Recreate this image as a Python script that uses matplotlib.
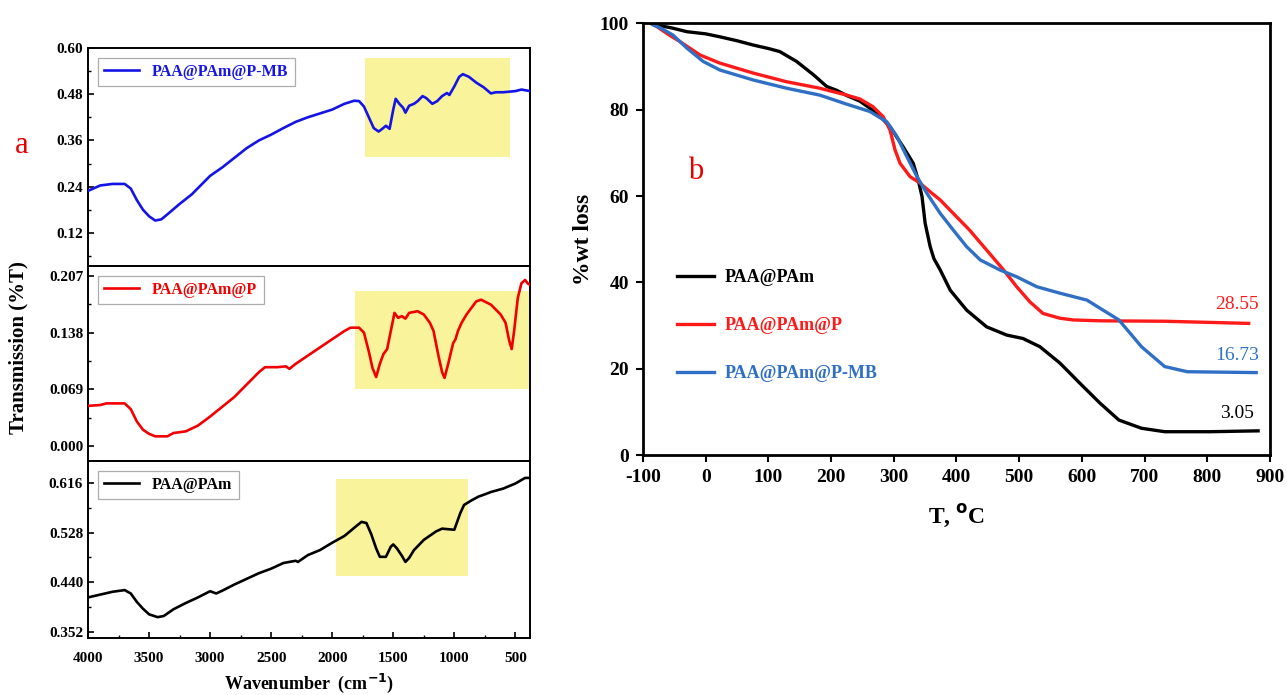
import matplotlib
matplotlib.use("Agg")
import matplotlib.pyplot as plt
from matplotlib.patches import Rectangle
from matplotlib.ticker import MultipleLocator, FixedLocator, FormatStrFormatter

plt.rcParams['font.family'] = ['Liberation Serif', 'DejaVu Serif']
plt.rcParams['font.weight'] = 'bold'
plt.rcParams['axes.unicode_minus'] = False

# ---- FTIR spectra (wavenumber cm-1, transmission) ----
wn_mb = [4000, 3900, 3800, 3700, 3650, 3600, 3550, 3500, 3450, 3400, 3350, 3250, 3150, 3000,
         2900, 2800, 2700, 2600, 2500, 2400, 2300, 2200, 2100, 2000, 1900, 1820, 1780, 1740,
         1700, 1660, 1620, 1590, 1560, 1530, 1500, 1480, 1450, 1420, 1400, 1370, 1330, 1300,
         1260, 1230, 1180, 1140, 1100, 1060, 1040, 1000, 960, 930, 880, 820, 760, 700, 660,
         600, 500, 450, 380]
tr_mb = [0.229, 0.243, 0.247, 0.247, 0.235, 0.205, 0.180, 0.163, 0.152, 0.155, 0.168, 0.195,
         0.220, 0.268, 0.290, 0.315, 0.340, 0.360, 0.375, 0.392, 0.408, 0.420, 0.430, 0.440,
         0.455, 0.463, 0.462, 0.448, 0.420, 0.392, 0.383, 0.390, 0.398, 0.390, 0.440, 0.468,
         0.455, 0.445, 0.432, 0.450, 0.455, 0.462, 0.475, 0.470, 0.455, 0.462, 0.475, 0.483,
         0.478, 0.500, 0.525, 0.532, 0.525, 0.510, 0.498, 0.482, 0.485, 0.485, 0.488, 0.492,
         0.488]

wn_p = [4000, 3900, 3850, 3700, 3650, 3600, 3550, 3500, 3450, 3350, 3300, 3200, 3100, 3000,
        2900, 2800, 2700, 2600, 2550, 2450, 2380, 2350, 2300, 2200, 2100, 2000, 1900, 1850,
        1780, 1740, 1700, 1670, 1640, 1610, 1580, 1550, 1520, 1490, 1460, 1430, 1400, 1370,
        1300, 1250, 1200, 1170, 1130, 1100, 1080, 1050, 1010, 990, 970, 940, 900, 860, 820,
        780, 700, 620, 580, 550, 530, 510, 480, 450, 420, 400, 380]
tr_p = [0.049, 0.050, 0.052, 0.052, 0.045, 0.030, 0.020, 0.015, 0.012, 0.012, 0.016, 0.018,
        0.025, 0.036, 0.048, 0.060, 0.075, 0.090, 0.096, 0.096, 0.097, 0.094, 0.100, 0.110,
        0.120, 0.130, 0.140, 0.144, 0.144, 0.138, 0.115, 0.095, 0.084, 0.100, 0.112, 0.118,
        0.140, 0.162, 0.156, 0.158, 0.155, 0.162, 0.164, 0.160, 0.150, 0.140, 0.110, 0.090,
        0.083, 0.100, 0.125, 0.130, 0.140, 0.150, 0.160, 0.168, 0.176, 0.178, 0.172, 0.160,
        0.150, 0.128, 0.118, 0.140, 0.180, 0.198, 0.202, 0.198, 0.196]

wn_pam = [4000, 3900, 3800, 3700, 3650, 3600, 3550, 3500, 3430, 3380, 3300, 3200, 3100, 3000,
          2950, 2900, 2800, 2700, 2600, 2500, 2400, 2300, 2280, 2200, 2100, 2000, 1900, 1800,
          1760, 1720, 1680, 1640, 1610, 1560, 1520, 1500, 1470, 1430, 1400, 1370, 1330, 1250,
          1150, 1100, 1050, 1000, 980, 950, 920, 860, 800, 760, 700, 600, 500, 420, 380]
tr_pam = [0.413, 0.418, 0.423, 0.426, 0.420, 0.405, 0.393, 0.383, 0.378, 0.380, 0.392, 0.403,
          0.413, 0.424, 0.420, 0.425, 0.436, 0.446, 0.456, 0.464, 0.474, 0.478, 0.476, 0.488,
          0.497, 0.510, 0.522, 0.540, 0.547, 0.545, 0.525, 0.500, 0.485, 0.485, 0.503, 0.507,
          0.500, 0.487, 0.476, 0.483, 0.497, 0.515, 0.530, 0.535, 0.534, 0.533, 0.545, 0.563,
          0.577, 0.585, 0.592, 0.595, 0.600, 0.606, 0.615, 0.625, 0.625]

# highlighted fingerprint regions (x_from, x_to, y_low, y_high)
band_mb = (1735, 545, 0.317, 0.574)
band_p = (1815, 390, 0.070, 0.188)
band_pam = (1965, 890, 0.451, 0.623)

# ---- TGA curves (T in C, weight %) ----
t_pam = [-87, -84, -55, -30, 0, 23, 50, 76, 100, 118, 145, 172, 193, 209, 225, 246, 273, 294,
         315, 331, 339, 345, 350, 358, 364, 374, 390, 416, 448, 480, 506, 533, 565, 597, 629,
         659, 695, 732, 804, 881]
w_pam = [100.0, 99.8, 99.0, 98.1, 97.6, 96.9, 96.0, 95.0, 94.2, 93.5, 91.2, 88.1, 85.4, 84.5,
         83.3, 82.0, 79.2, 76.1, 71.4, 67.6, 63.7, 59.9, 53.7, 48.3, 45.5, 42.9, 38.2, 33.6,
         29.7, 27.8, 27.0, 25.1, 21.3, 16.6, 12.0, 8.1, 6.2, 5.4, 5.4, 5.6]

t_p = [-87, -78, -60, -41, -9, 23, 76, 129, 182, 225, 246, 267, 283, 294, 302, 310, 326, 342,
       358, 374, 421, 448, 475, 496, 517, 538, 565, 586, 629, 732, 866]
w_p = [100.0, 99.3, 97.5, 95.8, 92.7, 90.8, 88.5, 86.5, 85.0, 83.4, 82.5, 80.7, 78.4, 75.3,
       70.7, 67.6, 64.5, 63.0, 61.0, 59.1, 52.1, 47.5, 42.9, 39.0, 35.5, 32.8, 31.7, 31.3, 31.1,
       31.0, 30.5]

t_mb = [-87, -84, -70, -52, -30, -4, 23, 76, 129, 182, 225, 262, 289, 305, 321, 337, 353, 374,
        395, 416, 438, 469, 496, 528, 565, 608, 629, 659, 695, 732, 768, 878]
w_mb = [100.0, 99.7, 98.8, 97.3, 94.3, 91.2, 89.2, 86.9, 85.0, 83.4, 81.3, 79.6, 77.2, 73.8,
        69.1, 64.5, 60.6, 56.0, 52.1, 48.3, 45.2, 42.9, 41.3, 39.0, 37.5, 35.9, 34.0, 31.3,
        25.1, 20.5, 19.3, 19.1]

residue = ['3.05', '28.55', '16.73']
residue_y = [9.7, 34.8, 23.0]

names = ['PAA@PAm', 'PAA@PAm@P', 'PAA@PAm@P-MB']
ftir_colors = ['black', '#f20000', '#1414e6']
tga_colors = ['black', '#ff1a1a', '#2f6fc6']

fig = plt.figure(figsize=(12.87, 6.95), dpi=100)

ax_top = fig.add_axes([0.0684, 0.6173, 0.3434, 0.3137])
ax_mid = fig.add_axes([0.0684, 0.3367, 0.3434, 0.2806], sharex=ax_top)
ax_bot = fig.add_axes([0.0684, 0.0820, 0.3434, 0.2547], sharex=ax_top)

panels = [
    (ax_top, wn_mb, tr_mb, names[2], ftir_colors[2], band_mb,
     (0.034, 0.60), [0.12, 0.24, 0.36, 0.48, 0.60], '%.2f'),
    (ax_mid, wn_p, tr_p, names[1], ftir_colors[1], band_p,
     (-0.018, 0.219), [0.0, 0.069, 0.138, 0.207], '%.3f'),
    (ax_bot, wn_pam, tr_pam, names[0], ftir_colors[0], band_pam,
     (0.341, 0.655), [0.352, 0.440, 0.528, 0.616], '%.3f'),
]

for ax, x, y, name, col, band, ylim, yt, fmt in panels:
    x0, x1, y0, y1 = band
    ax.add_patch(Rectangle((x1, y0), x0 - x1, y1 - y0, facecolor='#f9f39c',
                           edgecolor='none', zorder=1))
    ax.plot(x, y, color=col, lw=1.9, label=name, zorder=3)
    ax.set_ylim(*ylim)
    ax.yaxis.set_major_locator(FixedLocator(yt))
    step = yt[1] - yt[0]
    ax.yaxis.set_minor_locator(FixedLocator([v + step / 2 for v in [yt[0] - step] + yt]))
    ax.yaxis.set_major_formatter(FormatStrFormatter(fmt))
    ax.tick_params(axis='both', which='both', direction='in', labelsize=11)
    ax.tick_params(which='major', length=4, width=1.2)
    ax.tick_params(which='minor', length=2.5, width=1)
    for s in ax.spines.values():
        s.set_linewidth(1.4)
    leg = ax.legend(loc='upper left', frameon=True, fancybox=False,
                    edgecolor='#999999', handlelength=2.2, borderaxespad=0.6,
                    labelcolor='linecolor', prop={'weight': 'bold', 'size': 11.5})
    leg.get_frame().set_linewidth(0.9)

ax_top.set_xlim(4000, 380)
ax_top.xaxis.set_major_locator(MultipleLocator(500))
ax_top.xaxis.set_minor_locator(MultipleLocator(250))
for ax in (ax_top, ax_mid):
    ax.tick_params(axis='x', which='both', bottom=False, labelbottom=False)
ax_bot.tick_params(axis='x', which='major', pad=10)
ax_bot.set_xlabel('Wavenumber  (cm$^{\\mathbf{-1}}$)', fontsize=13, fontweight='bold', labelpad=5)

fig.text(0.014, 0.50, 'Transmission (%T)', rotation=90, ha='center', va='center',
         fontsize=15, fontweight='bold')
fig.text(0.017, 0.79, 'a', color='#e60000', fontsize=22, fontweight='normal',
         ha='center', va='center')

# ---- TGA panel ----
ax_t = fig.add_axes([0.4996, 0.3453, 0.4872, 0.6209])
tga = [(t_pam, w_pam), (t_p, w_p), (t_mb, w_mb)]
for (t, w), name, col in zip(tga, names, tga_colors):
    ax_t.plot(t, w, color=col, lw=2.4, label=name, solid_joinstyle='round')

for txt, yv, col in zip(residue, residue_y, tga_colors):
    ax_t.text(848, yv, txt, color=col, fontsize=14, fontweight='normal',
              ha='center', va='center')

ax_t.text(-16, 65.7, 'b', color='#e60000', fontsize=22, fontweight='normal',
          ha='center', va='center')

ax_t.set_xlim(-100, 900)
ax_t.set_ylim(0, 100)
ax_t.xaxis.set_major_locator(MultipleLocator(100))
ax_t.yaxis.set_major_locator(MultipleLocator(20))
ax_t.tick_params(direction='out', length=5, width=1.5, labelsize=14, pad=5)
for s in ax_t.spines.values():
    s.set_linewidth(2)
ax_t.set_xlabel('T, $^{\\mathbf{o}}$C', fontsize=17, fontweight='bold', labelpad=12)
ax_t.set_ylabel('%wt loss', fontsize=17, fontweight='bold', labelpad=4)
ax_t.legend(loc='upper left', bbox_to_anchor=(0.055, 0.43), frameon=False,
            handlelength=2.0, handletextpad=0.6, labelspacing=1.7, borderpad=0,
            borderaxespad=0, labelcolor='linecolor', prop={'weight': 'bold', 'size': 13})

fig.savefig('out.png', dpi=100)
